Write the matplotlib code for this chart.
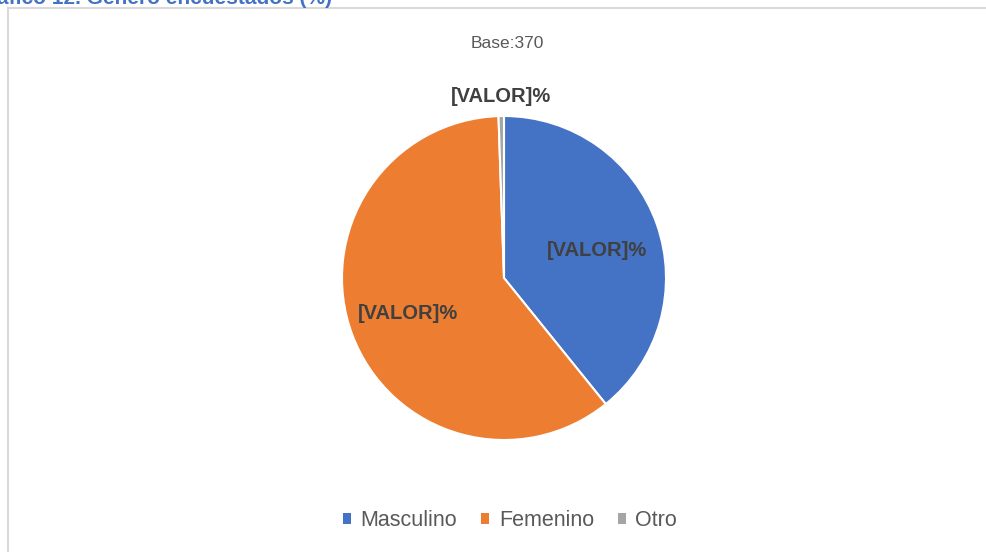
import numpy as np
import matplotlib.pyplot as plt

# ============================================
# DATA
# ============================================

categorias = ['Masculino', 'Femenino', 'Otro']
conteos = [145, 223, 2]          # base 370
colores = ['#4472C4', '#ED7D31', '#A5A5A5']
etiquetas = ['[VALOR]%', '[VALOR]%', '[VALOR]%']
dist_etiqueta = [0.59, 0.63, 1.12]

titulo = 'áfico 12. Género encuestados (%)'
subtitulo = 'Base:' + str(sum(conteos))

# ============================================
# FIGURE
# ============================================

plt.rcParams['font.family'] = ['Liberation Sans', 'DejaVu Sans']

W, H = 987, 552
fig = plt.figure(figsize=(W / 100, H / 100), dpi=100)

# chart frame (light grey, left and top only visible)
fig.add_artist(plt.Line2D([8 / W, 8 / W], [0, 1 - 8 / H], color='#D9D9D9', lw=1.5))
fig.add_artist(plt.Line2D([8 / W, 1], [1 - 8 / H, 1 - 8 / H], color='#D9D9D9', lw=1.5))

# heading above the frame, cut by the page edge as in the source
fig.text(-3 / W, 1 + 1 / H, titulo, color='#4472C4', fontsize=15,
         fontweight='bold', ha='left', va='center')

fig.text(507 / W, 1 - 43 / H, subtitulo, color='#595959', fontsize=12.5,
         ha='center', va='center')

# pie
cx, cy, r = 504, 278, 162
ax = fig.add_axes([(cx - r) / W, (H - cy - r) / H, 2 * r / W, 2 * r / H])
wedges, _ = ax.pie(conteos, colors=colores, startangle=90, counterclock=False,
                   wedgeprops=dict(edgecolor='white', linewidth=1.5))
ax.set_xlim(-1, 1)
ax.set_ylim(-1, 1)
ax.set_aspect('equal')
ax.axis('off')

for i, (w, txt, d) in enumerate(zip(wedges, etiquetas, dist_etiqueta)):
    ang = np.deg2rad((w.theta1 + w.theta2) / 2)
    ax.annotate(txt, (d * np.cos(ang), d * np.sin(ang)),
                xytext=(3, -4) if i == 0 else (0, 0), textcoords='offset pixels',
                ha='center', va='center', fontsize=14.5, fontweight='bold',
                color='#404040', annotation_clip=False)

leg = fig.legend(wedges, categorias, loc='center', bbox_to_anchor=(510 / W, 1 - 521 / H),
                 ncol=3, frameon=False, fontsize=15.5, handlelength=0.38,
                 handleheight=0.38, handletextpad=0.45, columnspacing=1.1)
for t in leg.get_texts():
    t.set_color('#595959')
for h in leg.legend_handles:
    h.set_edgecolor('none')

fig.savefig('out.png', dpi=100)
